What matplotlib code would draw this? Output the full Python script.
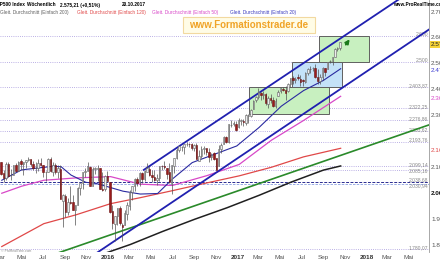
import numpy as np
import pandas as pd
import matplotlib
matplotlib.use("Agg")
import matplotlib.pyplot as plt
import matplotlib.dates as mdates
import matplotlib.patches as patches
import matplotlib.transforms as mtransforms

plt.rcParams['font.family'] = ['Liberation Sans', 'DejaVu Sans']

# weekly candles S&P500, first week ends 06.03.2015, last 20.10.2017
first_week = '2015-03-06'
opens = [2115, 2072, 2055, 2109, 2064, 2065, 2102, 2082, 2119, 2107, 2115, 2123, 2125, 2108, 2092,
         2092, 2112, 2102, 2075, 2077, 2127, 2078, 2104, 2078, 2090, 1966, 1986, 1921, 1961, 1960,
         1931, 1950, 2014, 2034, 2076, 2080, 2097, 2023, 2089, 2090, 2091, 2013, 2010, 2062,
         2039, 1927, 1878, 1906, 1937, 1873, 1871, 1917, 1947, 1999, 2021, 2048, 2037, 2073, 2050,
         2078, 2089, 2067, 2057, 2046, 2052, 2100, 2100, 2092, 2075, 2030, 2099, 2131, 2163, 2173,
         2173, 2183, 2186, 2183, 2170, 2181, 2120, 2139, 2164, 2168, 2155, 2133, 2149, 2129, 2100,
         2164, 2186, 2211, 2191, 2258, 2260, 2263,
         2251, 2274, 2272, 2267, 2294, 2294, 2320, 2354, 2365, 2380, 2372, 2378, 2340, 2363, 2354,
         2332, 2370, 2388, 2398, 2393, 2387, 2416, 2437, 2431, 2442, 2436, 2429, 2424, 2459, 2473,
         2477, 2478, 2444, 2425, 2444, 2477, 2474, 2502, 2503, 2521, 2550, 2555]
highs = [2117, 2083, 2114, 2114, 2089, 2103, 2111, 2120, 2126, 2117, 2123, 2134, 2126, 2121, 2115,
         2127, 2129, 2102, 2081, 2132, 2133, 2114, 2113, 2105, 2102, 1993, 1993, 1975, 2021, 1989,
         1951, 2020, 2034, 2076, 2094, 2116, 2099, 2097, 2095, 2104, 2093, 2076, 2067, 2082,
         2039, 1950, 1908, 1940, 1947, 1882, 1930, 1963, 2009, 2022, 2052, 2056, 2075, 2075, 2083,
         2111, 2099, 2084, 2084, 2071, 2100, 2105, 2120, 2092, 2113, 2104, 2131, 2169, 2178, 2178,
         2183, 2194, 2188, 2187, 2184, 2187, 2163, 2176, 2175, 2169, 2169, 2148, 2154, 2131, 2182,
         2189, 2214, 2214, 2260, 2278, 2272, 2273,
         2283, 2280, 2279, 2301, 2300, 2319, 2352, 2368, 2401, 2386, 2390, 2382, 2370, 2378, 2366,
         2362, 2392, 2400, 2404, 2406, 2418, 2440, 2446, 2441, 2454, 2450, 2434, 2463, 2478, 2484,
         2480, 2491, 2474, 2453, 2481, 2477, 2500, 2508, 2519, 2552, 2557, 2575]
lows = [2066, 2040, 2046, 2056, 2045, 2064, 2075, 2082, 2085, 2067, 2092, 2120, 2099, 2085, 2072,
        2079, 2100, 2056, 2044, 2077, 2077, 2063, 2068, 2052, 1971, 1867, 1903, 1911, 1953, 1929,
        1872, 1950, 1990, 2012, 2058, 2080, 2022, 2023, 2070, 2042, 2011, 2005, 2005, 2043,
        1918, 1857, 1812, 1872, 1872, 1810, 1871, 1891, 1931, 1969, 2004, 2022, 2022, 2033, 2044,
        2076, 2060, 2039, 2043, 2025, 2043, 2085, 2089, 2050, 2033, 1991, 2074, 2127, 2155, 2156,
        2147, 2178, 2172, 2160, 2158, 2128, 2120, 2132, 2145, 2143, 2114, 2124, 2122, 2084, 2100,
        2151, 2186, 2187, 2187, 2248, 2255, 2234,
        2245, 2258, 2254, 2257, 2267, 2288, 2320, 2348, 2358, 2354, 2357, 2334, 2322, 2344, 2328,
        2323, 2370, 2379, 2387, 2353, 2386, 2405, 2415, 2418, 2430, 2406, 2407, 2421, 2449, 2458,
        2465, 2437, 2417, 2417, 2429, 2446, 2474, 2495, 2489, 2520, 2543, 2547]
closes = [2071, 2053, 2108, 2061, 2067, 2102, 2081, 2117, 2108, 2116, 2123, 2126, 2107, 2092, 2094,
          2110, 2102, 2077, 2077, 2127, 2080, 2104, 2078, 2092, 1971, 1989, 1921, 1961, 1958, 1932,
          1951, 2015, 2033, 2075, 2079, 2099, 2023, 2089, 2090, 2092, 2012, 2006, 2061, 2044,
          1922, 1880, 1907, 1940, 1880, 1865, 1918, 1948, 2000, 2022, 2050, 2035, 2073, 2048, 2081,
          2092, 2065, 2058, 2047, 2053, 2099, 2099, 2096, 2071, 2037, 2103, 2130, 2162, 2175, 2174,
          2183, 2184, 2184, 2169, 2180, 2128, 2139, 2165, 2168, 2153, 2133, 2141, 2126, 2085, 2164,
          2182, 2213, 2192, 2260, 2258, 2264, 2239,
          2277, 2275, 2271, 2295, 2297, 2316, 2351, 2367, 2383, 2373, 2378, 2344, 2363, 2355, 2329,
          2349, 2384, 2399, 2391, 2382, 2416, 2439, 2432, 2433, 2438, 2423, 2425, 2459, 2473, 2472,
          2477, 2441, 2426, 2443, 2477, 2461, 2500, 2502, 2519, 2549, 2553, 2575]

# moving averages
ma20_dates = ['2015-03-06', '2015-05-01', '2015-07-31', '2015-08-21', '2015-09-18', '2015-10-30',
              '2015-11-27', '2015-12-31', '2016-02-12', '2016-04-01', '2016-05-20', '2016-07-01',
              '2016-08-26', '2016-10-28', '2016-12-30', '2017-03-03', '2017-05-05', '2017-07-07',
              '2017-09-01', '2017-10-20']
ma20_vals = [2045, 2085, 2099, 2097, 2065, 2037, 2033, 2020, 2003, 1992, 1994, 2050,
             2113, 2145, 2177, 2248, 2330, 2390, 2429, 2474]
ma50_dates = ['2015-03-06', '2015-05-01', '2015-07-03', '2015-10-02', '2016-01-08', '2016-04-01',
              '2016-07-01', '2016-10-07', '2017-01-06', '2017-04-07', '2017-07-07', '2017-10-20']
ma50_vals = [1995, 2022, 2045, 2054, 2059, 2030, 2025, 2063, 2106, 2199, 2275, 2368]
ma120_dates = ['2015-03-06', '2015-07-03', '2015-10-02', '2016-01-08', '2016-04-01', '2016-07-01',
               '2016-10-07', '2017-01-06', '2017-04-07', '2017-07-07', '2017-10-20']
ma120_vals = [1790, 1878, 1912, 1955, 1978, 2005, 2035, 2062, 2095, 2135, 2168]
ma200_dates = ['2015-09-04', '2015-12-04', '2016-03-04', '2016-06-03', '2016-09-02', '2016-12-02',
               '2017-03-03', '2017-06-02', '2017-09-01', '2017-10-20']
ma200_vals = [1720, 1755, 1798, 1848, 1895, 1939, 1987, 2038, 2084, 2100]

# drawn trend lines (start, end)
chan_low_dates = ['2015-11-14', '2018-06-27']
chan_low_vals = [1751, 2625]
chan_up_dates = ['2016-04-11', '2018-04-06']
chan_up_vals = [2085, 2744]
green_dates = ['2015-07-19', '2018-06-27']
green_vals = [1754, 2258]

# horizontal levels and their labels
levels = [2600, 2500, 2403.87, 2322.25, 2276.86, 2233.62, 2193.76, 2099.14, 2085.16,
          2038.68, 2030.94, 1780.07]
level_labels = ['2.600', '2.500', '2.403,87', '2.322,25', '2.276,86', '2.233,62', '2.193,76',
                '2.099,14', '2.085,16', '2.038,68', '2.030,94', '1.780,07']

# zones
box_starts = ['2017-02-04', '2017-06-03', '2017-08-21']
box_ends = ['2017-09-18', '2017-10-25', '2018-01-09']
box_lows = [2300, 2403.87, 2500]
box_highs = [2403.87, 2500, 2600]
box_colors = ['#c8f0c0', '#c4e2f8', '#c8f0c0']

arrow_dates = ['2017-10-30', '2017-11-19']
arrow_vals = [2558, 2596]

yticks = [1800, 1900, 2000, 2100, 2300, 2400, 2500, 2600, 2700]
months = pd.date_range('2015-03-01', '2018-05-01', freq='2MS')
month_names = {1: None, 3: 'Mar', 5: 'Mai', 7: 'Jul', 9: 'Sep', 11: 'Nov'}


fig = plt.figure(figsize=(4.4, 2.64), dpi=100)
ax = fig.add_axes([0, 12 / 264, 429 / 440, 252 / 264])
ax.set_xlim(mdates.date2num(pd.Timestamp('2015-03-05')), mdates.date2num(pd.Timestamp('2018-06-27')))
ax.set_ylim(1769, 2738.5)

# levels
for v, lab in zip(levels, level_labels):
    dy = 1.2
    if v == 2038.68:
        ax.axhline(v, color='#2a2a90', lw=0.7, ls=(0, (3, 1.5)), zorder=1)
    elif v == 2030.94:
        ax.axhline(v, color='#8aa0e0', lw=0.6, ls=(0, (3, 1.5)), zorder=1)
        dy = -1.5
    else:
        ax.axhline(v, color='#a596dc', lw=0.6, ls=(0, (1, 1.6)), zorder=1)
    if v == 2085.16:
        dy = -1.0
    ax.annotate(lab, xy=(0.998, v), xycoords=('axes fraction', 'data'), xytext=(0, dy),
                textcoords='offset points', ha='right', va='center', fontsize=3.6, color='#888888')

# zones
for s, e, lo, hi, c in zip(box_starts, box_ends, box_lows, box_highs, box_colors):
    x0 = mdates.date2num(pd.Timestamp(s))
    x1 = mdates.date2num(pd.Timestamp(e))
    ax.add_patch(patches.Rectangle((x0, lo), x1 - x0, hi - lo, facecolor=c,
                                   edgecolor='#606060', lw=0.7, zorder=2))

# moving averages
def ma_line(dates, vals, color, lw=0.8):
    ax.plot(pd.to_datetime(dates), vals, color=color, lw=lw, zorder=3)

ma_line(ma200_dates, ma200_vals, '#202020', 1.1)
ma_line(ma120_dates, ma120_vals, '#e04848', 0.9)
ma_line(ma50_dates, ma50_vals, '#d848c8', 0.9)
ma_line(ma20_dates, ma20_vals, '#2a2aa0', 0.8)

# trend lines
ax.plot(pd.to_datetime(green_dates), green_vals, color='#2a8a2a', lw=1.2, zorder=3)
ax.plot(pd.to_datetime(chan_low_dates), chan_low_vals, color='#2020b0', lw=1.3, zorder=3)
ax.plot(pd.to_datetime(chan_up_dates), chan_up_vals, color='#2020b0', lw=1.3, zorder=3)

# candles
weeks = pd.date_range(first_week, periods=len(closes), freq='W-FRI') - pd.Timedelta(days=2)
xw = mdates.date2num(weeks)
o = np.array(opens, float)
h = np.array(highs, float)
l = np.array(lows, float)
c = np.array(closes, float)
up = c >= o
ax.vlines(xw, l, h, color='#505050', lw=0.5, zorder=4)
body = np.maximum(np.abs(c - o), 1.5)
ax.bar(xw[up], body[up], bottom=np.minimum(o, c)[up], width=4.2, color='#ececec',
       edgecolor='#606060', lw=0.4, zorder=5)
ax.bar(xw[~up], body[~up], bottom=np.minimum(o, c)[~up], width=4.2, color='#9a1c1c',
       edgecolor='#6a1010', lw=0.4, zorder=5)

# arrow
ad = mdates.date2num(pd.to_datetime(arrow_dates))
ax.annotate('', xy=(ad[1], arrow_vals[1]), xytext=(ad[0], arrow_vals[0]),
            arrowprops=dict(arrowstyle='-|>', color='#1a7a1a', lw=1.3, mutation_scale=6), zorder=6)

# axes styling
for side in ('top', 'left', 'bottom'):
    ax.spines[side].set_visible(False)
ax.spines['right'].set_color('#9a9a9a')
ax.spines['right'].set_linewidth(0.6)
ax.set_yticks([])
ax.set_xticks(mdates.date2num(months))
xl = [str(m.year) if m.month == 1 else month_names[m.month] for m in months]
ax.set_xticklabels(xl)
ax.tick_params(axis='x', length=0, pad=2.2, labelsize=4.6, labelcolor='#555555')
for t, m in zip(ax.get_xticklabels(), months):
    if m.month == 1:
        t.set_fontweight('bold')
        t.set_color('#333333')

# right side price labels
yt = mtransforms.blended_transform_factory(ax.transAxes, ax.transData)
yt = mtransforms.offset_copy(yt, fig=fig, x=0, y=-2, units='dots')
for v in yticks:
    lab = f'{v / 1000:.3f}'
    ax.text(1.005, v, lab, transform=yt, ha='left', va='center', fontsize=4.6,
            color='#111111' if v == 2000 else '#555555',
            fontweight='bold' if v == 2000 else 'normal', clip_on=False)
ax.text(1.005, closes[-1], '2.575', transform=yt, ha='left', va='center', fontsize=4.6,
        color='#222222', clip_on=False,
        bbox=dict(boxstyle='square,pad=0.15', facecolor='#f7d43a', edgecolor='none'))
ax.text(1.005, ma20_vals[-1], '2.474', transform=yt, ha='left', va='center', fontsize=4.6,
        color='#3a3ad0', clip_on=False)
ax.text(1.005, ma50_vals[-1], '2.368', transform=yt, ha='left', va='center', fontsize=4.6,
        color='#d848c8', clip_on=False)
ax.text(1.005, ma120_vals[-1], '2.168', transform=yt, ha='left', va='center', fontsize=4.6,
        color='#e04848', clip_on=False)

# header texts
hy = 1 - 5 / 264
fig.text(-7 / 440, hy, 'S&P500 Index', fontsize=3.4, fontweight='bold', va='center')
fig.text(27 / 440, hy, 'Wöchentlich', fontsize=3.4, fontweight='bold', va='center')
fig.text(60 / 440, hy, '2.575,21 (+0,51%)', fontsize=3.4, fontweight='bold', va='center')
fig.text(122 / 440, hy, '20.10.2017', fontsize=3.4, fontweight='bold', va='center')
legend_items = [('Gleit. Durchschnitt (Einfach 200)', '#606060', 0),
                ('Gleit. Durchschnitt (Einfach 120)', '#e04848', 77),
                ('Gleit. Durchschnitt (Einfach 50)', '#d848c8', 152),
                ('Gleit. Durchschnitt (Einfach 20)', '#3a3ac0', 230)]
for txt, col, px in legend_items:
    fig.text(px / 440, 1 - 12.5 / 264, txt, fontsize=3.4, color=col, va='center')
fig.text(393 / 440, hy, 'www.ProRealTime.com', fontsize=3.4, fontweight='bold', va='center')

fig.patches.append(patches.Rectangle((183 / 440, 1 - 33 / 264), 132 / 440, 16 / 264,
                                     transform=fig.transFigure, facecolor='#fffce6',
                                     edgecolor='#f2d9a0', lw=0.8, zorder=10))
fig.text(249 / 440, 1 - 25 / 264, 'www.Formationstrader.de', fontsize=7, fontweight='bold',
         color='#f0a428', ha='center', va='center', zorder=11)
fig.text(1 / 440, 11 / 264, '© ProRealTime.com', fontsize=2.4, color='#888888', va='bottom')

fig.savefig('out.png', dpi=100)
